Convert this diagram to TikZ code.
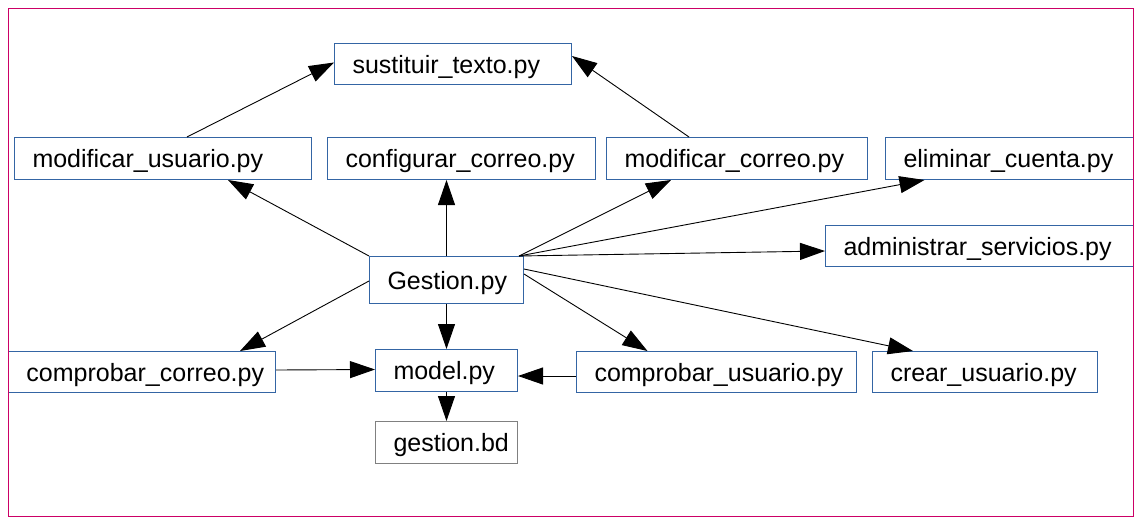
\documentclass[tikz,border=0pt]{standalone}
\usepackage{fontspec}
\setmainfont{Liberation Sans}
\usetikzlibrary{arrows.meta, positioning}
\definecolor{boxblue}{HTML}{3465A4}
\definecolor{boxgray}{HTML}{808080}
\definecolor{framepink}{HTML}{CC0066}
\hyphenpenalty=10000
\tikzstyle{diagram}=[x=1pt, y=-1pt, line width=0.9pt,
                     >={Triangle[length=25pt,width=17pt]},
                     font=\fontsize{25}{30}\selectfont]
\tikzstyle{module}=[draw=boxblue, line width=1pt, anchor=north west,
                    inner xsep=18pt, inner ysep=0pt, align=left,
                    text height=23.5pt, text depth=5pt,
                    minimum height=42pt]
\tikzstyle{data}=[module, draw=boxgray]

\begin{document}
\begin{tikzpicture}[diagram]
  \useasboundingbox (0,0) rectangle (1143,525);
  \node[module, text width=201pt, minimum height=41pt] (sust) at (334,43) {sustituir\_texto.py};
  \node[module, text width=261pt] (musr) at (14,137) {modificar\_usuario.py};
  \node[module, text width=232pt] (confc) at (327,137) {configurar\_correo.py};
  \node[module, text width=225pt] (mcor) at (606,137) {modificar\_correo.py};
  \node[module, text width=212pt] (elim) at (885,137) {eliminar\_cuenta.py};
  \node[module, text width=272pt, minimum height=41pt] (admin) at (825,225) {administrar\_servicios.py};
  \node[module, text width=118pt, minimum height=47pt] (gest) at (369,256) {Gestion.py};
  \node[module, text width=231pt, minimum height=41pt] (ccor) at (8,351) {comprobar\_correo.py};
  \node[module, text width=106pt] (model) at (375,349) {model.py};
  \node[module, text width=244pt, minimum height=41pt] (cusr) at (576,351) {comprobar\_usuario.py};
  \node[module, text width=189pt, minimum height=41pt] (crear) at (872,351) {crear\_usuario.py};
  \node[data, text width=106pt, below=29pt of model] (bd) {gestion.bd};
  \path[->] ([xshift=24pt]musr.north) edge ([yshift=1.5pt]sust.west);
  \path[->] ([xshift=-48pt]mcor.north) edge ([yshift=8pt]sust.east);
  \path[->] (gest.north west) edge ([xshift=65pt]musr.south);
  \path[->] (gest.north) edge ([xshift=-15pt]confc.south);
  \path[->] ([xshift=-5pt]gest.north east) edge ([xshift=-66pt]mcor.south);
  \path[->] ([xshift=-5pt]gest.north east) edge ([xshift=-85pt]elim.south);
  \path[->] ([xshift=-5pt]gest.north east) edge ([yshift=-5pt]admin.west);
  \path[->] ([yshift=11pt]gest.east) edge ([xshift=-72pt]crear.north);
  \path[->] ([yshift=6pt]gest.east) edge ([xshift=-69pt]cusr.north);
  \path[->] ([yshift=-1pt]gest.west) edge ([xshift=98pt]ccor.north);
  \path[->] (gest.south) edge (model.north);
  \path[->] ([yshift=2pt]ccor.east) edge ([yshift=1pt]model.west);
  \path[->] ([yshift=-4pt]cusr.west) edge ([yshift=-5.5pt]model.east);
  \path[->] (model.south) edge (bd.north);
  \draw[framepink, line width=1pt] (8,8) rectangle (1133,516);
\end{tikzpicture}
\end{document}
